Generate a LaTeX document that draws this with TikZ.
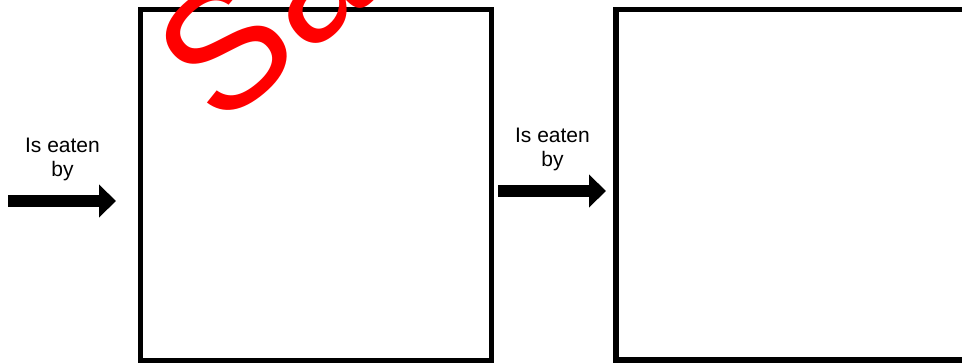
\documentclass[tikz,border=0pt]{standalone}
\usepackage{fontspec}
\setmainfont{Liberation Sans}
\usetikzlibrary{arrows.meta}
\begin{document}
\begin{tikzpicture}[x=1pt,y=1pt,
  frame/.style={draw=black, line width=5.5pt, inner sep=0pt, outer sep=0pt},
  lbl/.style={font=\fontsize{21}{24}\selectfont, align=center, inner sep=0pt},
  fat/.style={line width=12pt, -{Triangle[length=17pt,width=32pt]}},
  wmark/.style={text=red, font=\fontsize{170}{170}\selectfont, rotate=40, anchor=base west, inner sep=0pt},
]
\useasboundingbox (0,0) rectangle (962,362);
\clip (0,0) rectangle (962,362);
\node[frame, minimum width=351pt, minimum height=351.5pt] (box1) at (316,176.75) {};
\node[frame, minimum width=384pt, minimum height=350.5pt] (box2) at (808,177.25) {};
\node[lbl] (t1) at (62.5,203) {Is eaten\\by};
\node[lbl] (t2) at (552.5,213) {Is eaten\\by};
\coordinate (a1s) at (8,161);
\coordinate (a1e) at (116,161);
\coordinate (a2s) at (498,171);
\coordinate (a2e) at (606,171);
\draw[fat] (a1s) -- (a1e);
\draw[fat] (a2s) -- (a2e);
\node[wmark] (wm) at (219,232) {Sample};
\end{tikzpicture}
\end{document}
